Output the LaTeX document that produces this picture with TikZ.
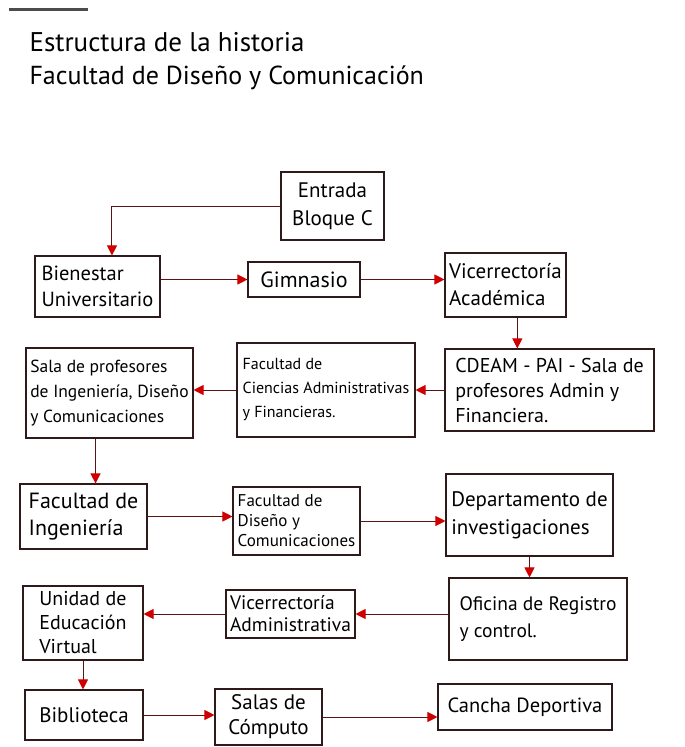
\documentclass[tikz,border=0pt]{standalone}
\usepackage{fontspec}
\setmainfont{PT Sans}
\usetikzlibrary{arrows.meta}
\definecolor{boxline}{HTML}{2E1A1A}
\definecolor{arrline}{HTML}{5A1414}
\definecolor{tipred}{HTML}{D00000}
\newcommand{\tsz}[2]{\fontsize{#1}{#2}\selectfont}

\begin{document}
\begin{tikzpicture}[x=1pt, y=-1pt,
	blk/.style={draw=boxline, line width=1.1pt, rectangle, align=left, inner sep=4pt,
		font=\tsz{20}{25}},
	arr/.style={draw=arrline, line width=1pt, -{Triangle[color=tipred, length=10pt, width=10pt]}}]
	\useasboundingbox (0,0) rectangle (685,747);
	\fill[black!70] (9,8) rectangle (88,10.5);
	\node[anchor=west, font=\tsz{27}{30}] (titulo) at (26,42) {Estructura de la historia};
	\node[anchor=west, font=\tsz{26}{30}] (subtitulo) at (26,78) {Facultad de Diseño y Comunicación};

	\node[blk, minimum width=103, minimum height=68, align=center, font=\tsz{21}{28}] (entrada) at (332.5,206) {Entrada\\Bloque C};
	\node[blk, minimum width=125, minimum height=61, font=\tsz{20.5}{26}] (bienestar) at (97.5,286.5) {Bienestar\\Universitario};
	\node[blk, minimum width=112, minimum height=35, font=\tsz{22}{26}] (gimnasio) at (304,279.5) {Gimnasio};
	\node[blk, minimum width=121, minimum height=64, font=\tsz{21}{27}] (vicacad) at (505.5,285) {Vicerrectoría\\Académica};
	\node[blk, minimum width=167, minimum height=90, font=\tsz{17.5}{25}] (salaprof) at (109.5,393) {Sala de profesores\\de Ingeniería, Diseño\\y Comunicaciones};
	\node[blk, minimum width=178, minimum height=94, font=\tsz{16}{24}] (facciencias) at (326,390) {Facultad de\\Ciencias Administrativas\\y Financieras.};
	\node[blk, minimum width=209, minimum height=82] (cdeam) at (549.5,390) {CDEAM - PAI - Sala de\\profesores Admin y\\Financiera.};
	\node[blk, minimum width=127, minimum height=65, font=\tsz{22}{27}] (facing) at (83.5,516.5) {Facultad de\\Ingeniería};
	\node[blk, minimum width=127, minimum height=68, font=\tsz{17}{20}] (facdis) at (296.5,521) {Facultad de\\Diseño y\\Comunicaciones};
	\node[blk, minimum width=167, minimum height=82, font=\tsz{21}{28}] (depto) at (529.5,515) {Departamento de\\investigaciones};
	\node[blk, minimum width=120, minimum height=74, font=\tsz{20}{24}] (unidad) at (83,623) {Unidad de\\Educación\\Virtual};
	\node[blk, minimum width=129, minimum height=48, font=\tsz{19.5}{22}] (vicadm) at (290.5,614) {Vicerrectoría\\Administrativa};
	\node[blk, minimum width=178, minimum height=82, font=\tsz{19.5}{27}] (oficina) at (538,619) {Oficina de Registro\\y control.};
	\node[blk, minimum width=118, minimum height=50, font=\tsz{21}{25}] (biblio) at (84,715) {Biblioteca};
	\node[blk, minimum width=107, minimum height=56, align=center, font=\tsz{21}{25}] (salas) at (268.5,717) {Salas de\\Cómputo};
	\node[blk, minimum width=174, minimum height=46, font=\tsz{20.5}{26}] (cancha) at (525,707) {Cancha Deportiva};

	\draw[arr] (entrada.west) -| (bienestar.65);
	\draw[arr] (bienestar.east |- gimnasio.west) -- (gimnasio.west);
	\draw[arr] (gimnasio.east) -- (gimnasio.east -| vicacad.west);
	\draw[arr] (vicacad.290) -- (vicacad.290 |- cdeam.north);
	\draw[arr] (cdeam.west) -- (facciencias.east);
	\draw[arr] (facciencias.west) -- (facciencias.west -| salaprof.east);
	\draw[arr] (salaprof.south -| facing.70) -- (facing.70);
	\draw[arr] (facing.east) -- (facing.east -| facdis.west);
	\draw[arr] (facdis.east) -- (facdis.east -| depto.west);
	\draw[arr] (depto.south) -- (depto.south |- oficina.north);
	\draw[arr] (oficina.west |- vicadm.east) -- (vicadm.east);
	\draw[arr] (vicadm.west) -- (vicadm.west -| unidad.east);
	\draw[arr] (unidad.south) -- (unidad.south |- biblio.north);
	\draw[arr] (biblio.east) -- (biblio.east -| salas.west);
	\draw[arr] (salas.east) -- (salas.east -| cancha.west);
\end{tikzpicture}
\end{document}
